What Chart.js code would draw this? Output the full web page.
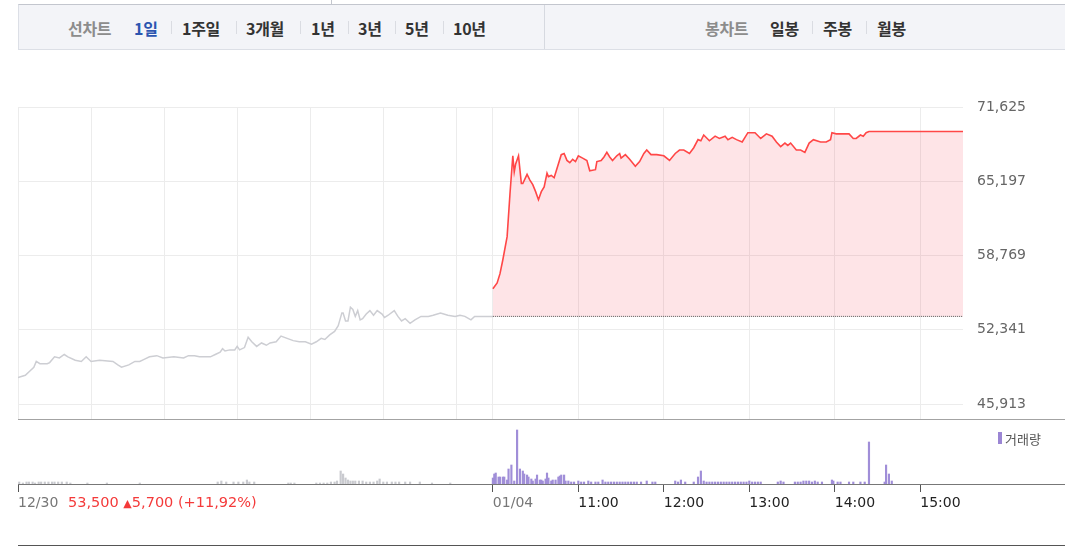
<!DOCTYPE html>
<html>
<head>
<meta charset="utf-8">
<script src="https://cdn.jsdelivr.net/npm/chart.js@4.4.1/dist/chart.umd.min.js"></script>
<style>
    body { margin: 0; width: 1065px; height: 546px; overflow: hidden; background: #fff; position: relative; font-family: 'DejaVu Sans', sans-serif; }
    .abs { position: absolute; }
    #tabs { left: 18px; top: 4px; width: 1047px; height: 46px; background: #f3f4f8; border-top: 1px solid #c3c6ce; border-bottom: 1px solid #dcdfe6; border-left: 1px solid #dcdfe6; box-sizing: border-box; }
    .tab { position: absolute; top: 16px; line-height: 22px; font: bold 16px 'Noto Sans CJK KR', sans-serif; color: #333; white-space: nowrap; letter-spacing: -0.3px; }
    .tab.dim { color: #8c8c8c; }
    .tab.on { color: #2b55b0; }
    .sep { position: absolute; top: 21px; width: 1px; height: 13px; background: #dadce2; }
    .line { position: absolute; height: 1px; }
</style>
</head>
<body>
<div class="abs" style="left:331px;top:0;width:1px;height:5px;background:#c3c6ce"></div>
<div id="tabs" class="abs"></div>
<div class="abs" style="left:544px;top:5px;width:1px;height:44px;background:#d6d9e0"></div>

<div class="tab dim" style="left:68px">선차트</div>
<div class="tab on" style="left:134px">1일</div>
<div class="sep" style="left:171px"></div>
<div class="tab" style="left:182px">1주일</div>
<div class="sep" style="left:236px"></div>
<div class="tab" style="left:246px">3개월</div>
<div class="sep" style="left:300px"></div>
<div class="tab" style="left:311px">1년</div>
<div class="sep" style="left:348px"></div>
<div class="tab" style="left:358px">3년</div>
<div class="sep" style="left:395px"></div>
<div class="tab" style="left:405px">5년</div>
<div class="sep" style="left:443px"></div>
<div class="tab" style="left:453px">10년</div>

<div class="tab dim" style="left:705px">봉차트</div>
<div class="tab" style="left:770px">일봉</div>
<div class="sep" style="left:812px"></div>
<div class="tab" style="left:823px">주봉</div>
<div class="sep" style="left:866px"></div>
<div class="tab" style="left:877px">월봉</div>

<canvas id="priceChart" class="abs" style="left:0;top:100px" width="1065" height="320"></canvas>
<canvas id="volumeChart" class="abs" style="left:0;top:420px" width="1065" height="100"></canvas>

<div class="line" style="left:18px;top:419px;width:1047px;background:#a3a3a3"></div>
<div class="line" style="left:18px;top:484px;width:1047px;background:#777"></div>
<div class="line" style="left:18px;top:545px;width:1047px;background:#555"></div>

<div class="abs" style="left:998px;top:432px;width:4px;height:12px;background:#9b86d4"></div>
<div class="abs" style="left:1005px;top:429px;line-height:18px;font:13px 'Noto Sans CJK KR',sans-serif;color:#555">거래량</div>

<div class="abs" style="left:68px;top:494px;line-height:17px;font-size:14.5px;color:#f43a3a;white-space:nowrap">53,500 <span style="font-size:11px">▲</span>5,700 (+11,92%)</div>

<script>
// 12/30 session (gray)
const day1Times = [
    '09:00', '09:06', '09:10', '09:13', '09:15', '09:18', '09:24', '09:26', '09:30', '09:34',
    '09:38', '09:41', '09:47', '09:52', '09:56', '10:00', '10:07', '10:18', '10:22', '10:25',
    '10:31', '10:36', '10:40', '10:44', '10:48', '10:54', '10:59', '11:08', '11:16', '11:20',
    '11:25', '11:29', '11:38', '11:42', '11:46', '11:48', '11:50', '11:54', '11:58', '12:00',
    '12:02', '12:06', '12:09', '12:12', '12:16', '12:20', '12:24', '12:27', '12:32', '12:36',
    '12:41', '12:46', '12:51', '12:56', '13:01', '13:05', '13:09', '13:12', '13:16', '13:20',
    '13:23', '13:26', '13:27', '13:29', '13:31', '13:33', '13:35', '13:37', '13:39', '13:41',
    '13:43', '13:46', '13:49', '13:52', '13:55', '13:59', '14:01', '14:04', '14:09', '14:12',
    '14:15', '14:18', '14:22', '14:26', '14:31', '14:37', '14:41', '14:47', '14:53', '14:59',
    '15:03', '15:07', '15:12', '15:15', '15:30'
];
const day1Prices = [
    48200, 48400, 48800, 49100, 49600, 49400, 49400, 49500, 50000, 49900,
    50200, 50000, 49700, 49600, 50000, 49600, 49700, 49600, 49300, 49100,
    49300, 49600, 49600, 49800, 50000, 50100, 49900, 50000, 49900, 50100,
    50100, 50000, 50000, 50200, 50400, 50700, 50500, 50600, 50600, 50900,
    50600, 50800, 51700, 51300, 50900, 51200, 51000, 51200, 51300, 51800,
    51600, 51400, 51300, 51300, 51100, 51300, 51600, 51500, 51900, 52200,
    52700, 53800, 53800, 53100, 53100, 54300, 54100, 53500, 54000, 53200,
    53300, 53700, 54000, 53600, 54000, 53700, 53400, 53600, 54000, 53500,
    53100, 53300, 52900, 53200, 53500, 53500, 53600, 53800, 53600, 53500,
    53600, 53500, 53200, 53500, 53500
];

// 01/04 session (red)
const day2Times = [
    '10:00', '10:03', '10:05', '10:07', '10:10', '10:12', '10:14', '10:15', '10:16', '10:18',
    '10:20', '10:21', '10:24', '10:26', '10:28', '10:30', '10:32', '10:34', '10:36', '10:38',
    '10:39', '10:41', '10:43', '10:45', '10:48', '10:50', '10:52', '10:54', '10:56', '10:58',
    '11:00', '11:03', '11:06', '11:08', '11:12', '11:13', '11:16', '11:18', '11:20', '11:22',
    '11:24', '11:27', '11:29', '11:30', '11:33', '11:36', '11:40', '11:43', '11:46', '11:48',
    '11:51', '11:55', '12:00', '12:04', '12:08', '12:11', '12:14', '12:18', '12:21', '12:24',
    '12:26', '12:28', '12:32', '12:36', '12:39', '12:43', '12:45', '12:48', '12:51', '12:55',
    '12:59', '13:04', '13:08', '13:12', '13:16', '13:19', '13:22', '13:25', '13:27', '13:29',
    '13:33', '13:36', '13:39', '13:42', '13:45', '13:50', '13:54', '13:57', '13:58', '14:01',
    '14:10', '14:13', '14:15', '14:18', '14:20', '14:22', '14:24', '15:30'
];
const day2Prices = [
    55900, 56400, 57200, 58400, 60400, 64100, 67400, 66000, 66700, 67400,
    65000, 65000, 65800, 65300, 64900, 64300, 63600, 64300, 64700, 65900,
    65600, 65700, 65500, 66300, 67500, 67600, 67000, 66800, 67100, 66900,
    67400, 67200, 67000, 66100, 66200, 66900, 67000, 67300, 67700, 67300,
    67000, 67400, 67600, 67200, 67500, 67100, 66500, 66900, 67600, 67900,
    67500, 67500, 67400, 67000, 67600, 67900, 67900, 67600, 68100, 68800,
    68700, 69200, 68700, 69100, 68900, 69100, 68800, 69000, 68800, 68600,
    69400, 69400, 68900, 69300, 69100, 68600, 68200, 68500, 68300, 68500,
    67900, 67900, 67700, 68500, 68800, 68600, 68600, 68800, 69400, 69300,
    69300, 68900, 68900, 69200, 69100, 69400, 69500, 69500
];

// volume (relative units)
const day1VolTimes = [
    '09:01', '09:04', '09:07', '09:09', '09:12', '09:14', '09:17', '09:19', '09:22', '09:25',
    '09:28', '09:30', '09:33', '09:36', '09:40', '09:43', '09:57', '10:13', '10:40', '11:44',
    '11:47', '11:51', '11:57', '12:01', '12:05', '12:08', '12:10', '12:14', '12:42', '12:44',
    '12:47', '13:05', '13:08', '13:11', '13:14', '13:17', '13:20', '13:22', '13:25', '13:27',
    '13:29', '13:31', '13:33', '13:35', '13:37', '13:40', '13:43', '13:46', '13:49', '13:52',
    '13:55', '13:57', '14:00', '14:03', '14:07', '14:10', '14:13', '14:18', '14:22', '14:30',
    '14:40', '14:55'
];
const day1Volumes = [
    2, 1, 2, 2, 2, 1, 2, 2, 2, 2,
    2, 2, 2, 2, 2, 1, 1, 1, 1, 2,
    3, 2, 2, 2, 2, 4, 2, 2, 1, 1,
    1, 1, 1, 1, 1, 2, 2, 3, 13, 10,
    6, 4, 3, 3, 3, 3, 3, 2, 2, 2,
    3, 5, 2, 2, 2, 2, 2, 2, 2, 2,
    1, 1
];
const day2VolTimes = [
    '10:00', '10:01', '10:02', '10:04', '10:05', '10:07', '10:08', '10:10', '10:11', '10:13',
    '10:15', '10:17', '10:19', '10:21', '10:22', '10:24', '10:25', '10:27', '10:28', '10:30',
    '10:31', '10:33', '10:34', '10:35', '10:37', '10:38', '10:39', '10:41', '10:42', '10:44',
    '10:46', '10:47', '10:48', '10:50', '10:51', '10:53', '10:55', '10:57', '11:00', '11:02',
    '11:04', '11:07', '11:09', '11:12', '11:14', '11:17', '11:19', '11:21', '11:23', '11:25',
    '11:27', '11:29', '11:31', '11:33', '11:35', '11:37', '11:39', '11:41', '11:44', '11:48',
    '11:52', '11:54', '12:08', '12:10', '12:12', '12:15', '12:21', '12:24', '12:26', '12:28',
    '12:30', '12:32', '12:34', '12:36', '12:38', '12:40', '12:42', '12:44', '12:46', '12:48',
    '12:50', '12:52', '12:54', '12:56', '12:58', '13:00', '13:02', '13:04', '13:06', '13:08',
    '13:20', '13:22', '13:24', '13:32', '13:34', '13:36', '13:38', '13:40', '13:42', '13:44',
    '13:46', '13:48', '13:51', '13:58', '13:59', '14:02', '14:04', '14:10', '14:13', '14:18',
    '14:21', '14:24', '14:35', '14:36', '14:38', '14:40'
];
const day2Volumes = [
    6, 10, 11, 7, 7, 7, 7, 4, 15, 19,
    3, 54, 15, 13, 10, 9, 7, 5, 3, 5,
    9, 4, 4, 3, 5, 11, 6, 3, 4, 4,
    7, 8, 9, 9, 3, 3, 2, 2, 3, 2,
    2, 3, 2, 2, 2, 4, 2, 2, 2, 2,
    2, 2, 2, 2, 2, 2, 2, 2, 2, 3,
    2, 2, 3, 2, 4, 2, 2, 7, 13, 3,
    2, 2, 2, 2, 2, 2, 2, 2, 2, 2,
    2, 2, 2, 2, 2, 3, 2, 2, 2, 2,
    2, 3, 2, 2, 2, 2, 3, 3, 3, 2,
    3, 2, 2, 4, 3, 2, 2, 2, 2, 2,
    2, 42, 2, 19, 10, 3
];

const prevClose = 53500;
const priceTicks = [45913, 52341, 58769, 65197, 71625];
const priceMin = 44530;
const priceMax = 71625;
const volumeMax = 63;

const day1GridTimes = ['10:00', '11:00', '12:00', '13:00', '14:00', '15:00'];
const day2HourTimes = ['11:00', '12:00', '13:00', '14:00', '15:00'];
const dayLabels = ['12/30', '01/04'];

// sessions: 12/30 09:00-15:30, 01/04 10:00-15:30 (opening delayed)
const day1Open = '09:00', day1Close = '15:30';
const day2Open = '10:00', day2Close = '15:30';
const DAY2_SPAN = 0.99;
const X_MAX = 1 + DAY2_SPAN;

const toMin = t => {
    const [h, m] = t.split(':').map(Number);
    return h * 60 + m;
}
const pos1 = t => (toMin(t) - toMin(day1Open)) / (toMin(day1Close) - toMin(day1Open));
const pos2 = t => 1 + (toMin(t) - toMin(day2Open)) / (toMin(day2Close) - toMin(day2Open)) * DAY2_SPAN;

const gridPositions = [0, ...day1GridTimes.map(pos1), 1, ...day2HourTimes.map(pos2)];
const axisPositions = [0, 1, ...day2HourTimes.map(pos2)];
const axisLabels = [...dayLabels, ...day2HourTimes];

Chart.defaults.font.family = "'DejaVu Sans', sans-serif";

const noPadding = scale => {
    scale.paddingTop = 0;
    scale.paddingBottom = 0;
    scale.paddingLeft = 0;
    scale.paddingRight = 0;
}

new Chart(document.getElementById('priceChart'), {
    type: 'line',
    data: {
        datasets: [
            {
                data: [{ x: 1, y: prevClose }, { x: X_MAX, y: prevClose }],
                borderColor: '#555',
                borderWidth: 1,
                borderDash: [1, 1],
                pointRadius: 0,
                order: 0
            },
            {
                data: day2Times.map((t, i) => ({ x: pos2(t), y: day2Prices[i] })),
                borderColor: '#ff4747',
                borderWidth: 1.6,
                backgroundColor: 'rgba(250, 50, 70, 0.13)',
                fill: { value: prevClose },
                pointRadius: 0,
                tension: 0,
                order: 1
            },
            {
                data: day1Times.map((t, i) => ({ x: pos1(t), y: day1Prices[i] })),
                borderColor: '#cdced3',
                borderWidth: 1.5,
                pointRadius: 0,
                tension: 0,
                order: 2
            }
        ]
    },
    options: {
        responsive: false,
        animation: false,
        devicePixelRatio: 1,
        layout: { padding: { left: 18, top: 7, right: 0, bottom: 0 } },
        plugins: { legend: { display: false }, tooltip: { enabled: false } },
        scales: {
            x: {
                type: 'linear',
                min: 0,
                max: X_MAX,
                afterBuildTicks: scale => { scale.ticks = gridPositions.map(v => ({ value: v })); },
                afterFit: scale => { scale.height = 0; noPadding(scale); },
                ticks: { display: false },
                grid: { color: '#ececec', drawTicks: false },
                border: { display: false }
            },
            y: {
                position: 'right',
                min: priceMin,
                max: priceMax,
                afterBuildTicks: scale => { scale.ticks = priceTicks.map(v => ({ value: v })); },
                afterFit: scale => { scale.width = 102; noPadding(scale); },
                ticks: {
                    color: '#666',
                    padding: 14,
                    font: { size: 14 },
                    callback: v => v.toLocaleString('en-US')
                },
                grid: { color: '#ececec', drawTicks: false },
                border: { display: false }
            }
        }
    }
});

new Chart(document.getElementById('volumeChart'), {
    type: 'bar',
    data: {
        datasets: [
            {
                data: day2VolTimes.map((t, i) => ({ x: pos2(t), y: day2Volumes[i] })),
                backgroundColor: '#a08ed8',
                barThickness: 1.5,
                grouped: false
            },
            {
                data: day1VolTimes.map((t, i) => ({ x: pos1(t), y: day1Volumes[i] })),
                backgroundColor: '#c9cacf',
                barThickness: 1.5,
                grouped: false
            }
        ]
    },
    options: {
        responsive: false,
        animation: false,
        devicePixelRatio: 1,
        layout: { padding: { left: 18, top: 1, right: 102, bottom: 0 } },
        plugins: { legend: { display: false }, tooltip: { enabled: false } },
        scales: {
            x: {
                type: 'linear',
                offset: false,
                min: 0,
                max: X_MAX,
                afterBuildTicks: scale => { scale.ticks = axisPositions.map(v => ({ value: v })); },
                afterFit: scale => { scale.height = 36; noPadding(scale); },
                ticks: {
                    align: 'start',
                    autoSkip: false,
                    maxRotation: 0,
                    padding: 3,
                    font: { size: 14 },
                    color: ctx => ctx.index < 2 ? '#777' : '#222',
                    callback: (v, i) => axisLabels[i]
                },
                grid: { offset: false, drawOnChartArea: false, drawTicks: true, tickLength: 8, color: '#555' },
                border: { display: false }
            },
            y: {
                display: false,
                min: 0,
                max: volumeMax
            }
        }
    }
});
</script>
</body>
</html>
